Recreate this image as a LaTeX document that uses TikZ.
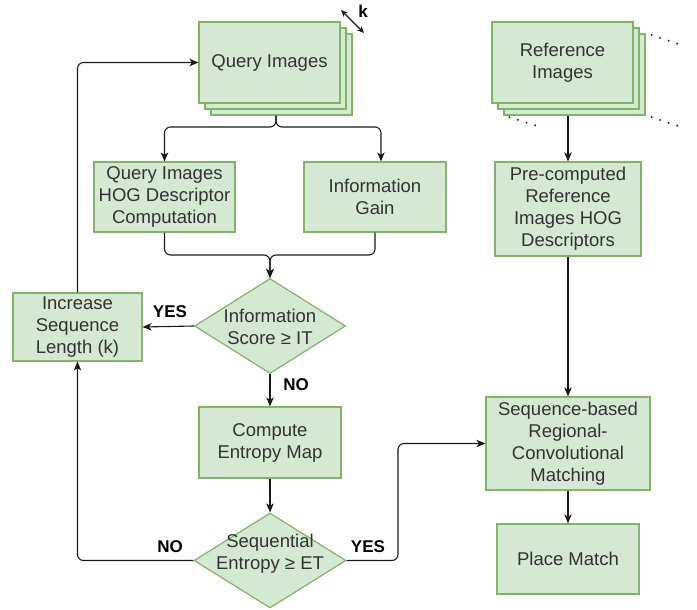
\documentclass[tikz,border=0pt]{standalone}
\usepackage{fontspec}
\setmainfont{Liberation Sans}
\usetikzlibrary{shapes.geometric,arrows.meta,calc}
\definecolor{gfill}{HTML}{D5E8D4}
\definecolor{gline}{HTML}{82B366}
\definecolor{tcol}{HTML}{333333}
\definecolor{lcol}{HTML}{1A1A1A}
\begin{document}
\begin{tikzpicture}[x=1pt,y=-1pt,
  box/.style={draw=gline, fill=gfill, line width=1.2pt, inner sep=2pt, align=center,
    text=tcol, font=\fontsize{18.5}{22}\selectfont},
  dia/.style={draw=gline, fill=gfill, line width=1.2pt, diamond, inner sep=0pt},
  dtxt/.style={text=tcol, align=center, font=\fontsize{18.5}{22}\selectfont},
  lab/.style={font=\fontsize{17}{19}\selectfont\bfseries, text=black},
  conn/.style={draw=lcol, line width=1.1pt, rounded corners=6pt},
  arr/.style={conn, -{Stealth[length=9pt,width=7.5pt,inset=2.5pt]}},
  dots/.style={draw=black!85, line width=2.2pt, dash pattern=on 0pt off 9pt, line cap=round}
]
\useasboundingbox (0,0) rectangle (697,610);

% Query images stack
\node[box, minimum width=141pt, minimum height=81pt] (qi3) at (281.5,74.5) {};
\node[box, minimum width=141pt, minimum height=81pt] (qi2) at (275.5,68.5) {};
\node[box, minimum width=141pt, minimum height=81pt] (qi) at (269.5,62.5) {Query Images};

% k arrow
\coordinate (ka) at (341,10);
\coordinate (kb) at (364,33);
\draw[draw=lcol, line width=1.1pt, {Stealth[length=7pt,width=6pt]}-{Stealth[length=7pt,width=6pt]}] (ka) -- (kb);
\node[lab] (klab) at (363,11) {k};

% Reference images stack
\node[box, minimum width=141pt, minimum height=81pt] (ri3) at (574.5,74.5) {};
\node[box, minimum width=141pt, minimum height=81pt] (ri2) at (568.5,68.5) {};
\node[box, minimum width=141pt, minimum height=81pt] (ri) at (562.5,62.5) {Reference\\Images};

\coordinate (dtr) at (684,46);
\coordinate (dbr) at (684,128);
\coordinate (dbl) at (543,128);
\draw[dots] ($(ri3.north east)+(6,1.5)$) -- (dtr);
\draw[dots] ($(ri3.south east)+(6,1.5)$) -- (dbr);
\draw[dots] ($(ri3.south west)+(6,1.5)$) -- (dbl);

% second row
\node[box, minimum width=141pt, minimum height=70pt] (hog) at (164.5,197) {Query Images\\HOG Descriptor\\Computation};
\node[box, minimum width=142pt, minimum height=70pt] (info) at (375,197) {Information\\Gain};
\node[box, minimum width=146pt, minimum height=94pt] (pre) at (568,209) {Pre-computed\\Reference\\Images HOG\\Descriptors};

% decision 1
\node[dia, minimum width=151pt, minimum height=95pt] (d1) at (270,326) {};
\node[dtxt] (d1t) at (270,327) {Information\\Score ≥ IT};

\node[box, minimum width=129pt, minimum height=68pt] (inc) at (77.5,327) {Increase\\Sequence\\Length (k)};

\node[box, minimum width=142pt, minimum height=71pt] (comp) at (270,442.5) {Compute\\Entropy Map};

% decision 2
\node[dia, minimum width=152pt, minimum height=95pt] (d2) at (270,560.5) {};
\node[dtxt] (d2t) at (270,554) {Sequential\\Entropy ≥ ET};

\node[box, minimum width=164pt, minimum height=93pt] (srcm) at (568,443.5) {Sequence-based\\Regional-\\Convolutional\\Matching};
\node[box, minimum width=142pt, minimum height=70pt] (place) at (568,559) {Place Match};

% connectors
\coordinate (qsplit) at (276,127);
\draw[arr] (qsplit |- qi3.south) -- (qsplit) -| (hog.north);
\draw[arr] (qsplit |- qi3.south) -- (qsplit) -| ($(info.north)+(6,0)$);

\coordinate (merge) at (270,255);
\draw[arr] (hog.south) |- (merge) -- (d1.north);
\draw[arr] (info.south) |- (merge) -- (d1.north);

\draw[arr] (d1.west) -- (inc.east);
\node[lab] (yes1) at (170,312) {YES};

\draw[arr] (inc.north) |- (qi.west);

\draw[arr] (d1.south) -- (comp.north);
\node[lab] (no1) at (296,385) {NO};

\draw[arr] (comp.south) -- (d2.north);

\draw[arr] (d2.west) -| (inc.south);
\node[lab] (no2) at (170,547) {NO};

\coordinate (yx) at (398,500);
\draw[arr] (d2.east) -| (yx) |- (srcm.west);
\node[lab] (yes2) at (368,547) {YES};

\draw[arr] (pre.north |- ri3.south) -- (pre.north);
\draw[arr] (pre.south) -- (srcm.north);
\draw[arr] (srcm.south) -- (place.north);
\end{tikzpicture}
\end{document}
